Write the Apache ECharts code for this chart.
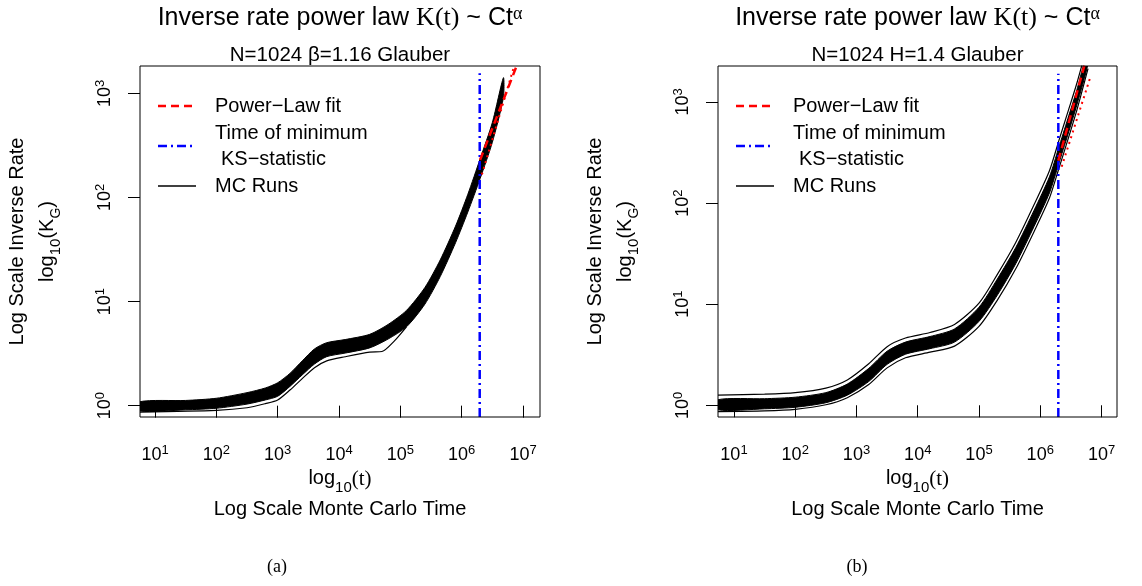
<!DOCTYPE html>
<html><head><meta charset="utf-8">
<script src="https://cdn.jsdelivr.net/npm/echarts@6/dist/echarts.min.js"></script>
<style>html,body{margin:0;padding:0;background:#fff}#c{width:1142px;height:586px}</style>
</head><body><div id="c"></div>
<script>
// ---------- tick positions (log10 units) ----------
const xTicks = [1, 2, 3, 4, 5, 6, 7];
const yTicks = [0, 1, 2, 3];

// ---------- panel (a): N=1024 beta=1.16 ----------
const logTA  = [0.755, 1.5, 2.0, 2.5, 2.8, 3.0, 3.2, 3.4, 3.6, 3.8, 4.1, 4.5, 4.8, 5.1, 5.4, 5.65, 5.9, 6.1, 6.3, 6.5, 6.68];
const upperA = [0.038, 0.05, 0.071, 0.125, 0.17, 0.22, 0.31, 0.43, 0.545, 0.605, 0.635, 0.685, 0.78, 0.915, 1.135, 1.40, 1.725, 2.03, 2.37, 2.72, 3.15];
const lowerA = [-0.051, -0.04, -0.025, 0.015, 0.055, 0.09, 0.185, 0.295, 0.40, 0.471, 0.505, 0.555, 0.64, 0.757, 0.975, 1.24, 1.565, 1.86, 2.18, 2.53, 2.96];
const logTOutA = [0.755, 2.0, 2.5, 2.8, 3.0, 3.2, 3.4, 3.6, 3.8, 4.1, 4.5, 4.7, 4.9, 5.1];
const outLoA   = [-0.062, -0.045, -0.02, 0.02, 0.055, 0.15, 0.26, 0.365, 0.43, 0.47, 0.515, 0.52, 0.62, 0.757];
const fitA1 = [[6.30, 2.36], [6.90, 3.27]];
const fitA2 = [[6.33, 2.22], [6.86, 3.27]];
const tMinA = 6.294, blueTopA = 3.193;

// ---------- panel (b): N=1024 H=1.4 ----------
const logTB  = [0.739, 1.5, 2.0, 2.5, 2.85, 3.2, 3.5, 3.8, 4.2, 4.6, 5.0, 5.3, 5.6, 5.9, 6.15, 6.3, 6.45, 6.6, 6.78];
const upperB = [0.055, 0.065, 0.08, 0.125, 0.21, 0.365, 0.535, 0.625, 0.68, 0.755, 0.97, 1.25, 1.56, 1.93, 2.26, 2.545, 2.835, 3.125, 3.52];
const lowerB = [-0.045, -0.035, -0.02, 0.025, 0.10, 0.235, 0.405, 0.505, 0.56, 0.625, 0.83, 1.09, 1.40, 1.77, 2.10, 2.385, 2.675, 2.975, 3.38];
const outHiB = [0.10, 0.11, 0.125, 0.17, 0.25, 0.41, 0.58, 0.665, 0.72, 0.80, 1.01, 1.295, 1.61, 1.985, 2.32, 2.61, 2.9, 3.19, 3.59];
const outLoB = [-0.062, -0.055, -0.04, 0.005, 0.075, 0.205, 0.37, 0.47, 0.525, 0.585, 0.78, 1.04, 1.35, 1.72, 2.05, 2.335, 2.625, 2.925, 3.33];
const fitB1 = [[6.295, 2.42], [6.72, 3.36]];
const fitB2 = [[6.35, 2.36], [6.82, 3.25]];
const tMinB = 6.295, blueTopB = 3.28;

const subtitles = ['N=1024 \u03b2=1.16 Glauber', 'N=1024 H=1.4 Glauber'];
const captions = ['(a)', '(b)'];

// ---------- layout ----------
const F = 'Liberation Sans';
const SERIF = 'Liberation Serif';
const panels = [
  { grid: { left: 140, top: 66, width: 400, height: 351 }, x: [0.755, 7.277], y: [-0.109, 3.263],
    t: logTA, up: upperA, lo: lowerA, outs: [[logTOutA, outLoA]], fits: [fitA1, fitA2], tMin: tMinA, blueTop: blueTopA,
    cx: 340, cap: 277, ox: 0 },
  { grid: { left: 718, top: 66, width: 399, height: 351 }, x: [0.739, 7.253], y: [-0.116, 3.356],
    t: logTB, up: upperB, lo: lowerB, outs: [[logTB, outHiB], [logTB, outLoB]], fits: [fitB1, fitB2], tMin: tMinB, blueTop: blueTopB,
    cx: 917.5, cap: 857, ox: 578 }
];

const tickRich = {
  b: { fontSize: 18, fontFamily: F, color: '#000', lineHeight: 20, padding: [5, 0, 0, 0], verticalAlign: 'bottom' },
  s: { fontSize: 13, fontFamily: F, color: '#000', lineHeight: 14, verticalAlign: 'top' }
};
const powFmt = v => '{b|10}{s|' + Math.round(v) + '}';

const grids = [], xAxes = [], yAxes = [], series = [], titles = [], graphics = [];

panels.forEach((p, i) => {
  grids.push(Object.assign({ show: false }, p.grid));
  xAxes.push({
    type: 'value', gridIndex: i, min: p.x[0], max: p.x[1],
    splitLine: { show: false }, axisLine: { show: false },
    axisTick: { show: true, customValues: xTicks, length: 12, lineStyle: { color: '#000', width: 1 } },
    axisLabel: { customValues: xTicks, formatter: powFmt, rich: tickRich, margin: 27 },
    name: '{l|log}{s|10}{p|(t)}\n{m|Log Scale Monte Carlo Time}',
    nameLocation: 'middle', nameGap: 36,
    nameTextStyle: { rich: {
      l: { fontSize: 20, fontFamily: F, color: '#000', lineHeight: 26, verticalAlign: 'top' },
      s: { fontSize: 15, fontFamily: F, color: '#000', lineHeight: 15, verticalAlign: 'bottom' },
      p: { fontSize: 21, fontFamily: SERIF, color: '#000', lineHeight: 26, verticalAlign: 'top' },
      m: { fontSize: 20, fontFamily: F, color: '#000', lineHeight: 30 }
    } }
  });
  yAxes.push({
    type: 'value', gridIndex: i, min: p.y[0], max: p.y[1],
    splitLine: { show: false }, axisLine: { show: false },
    axisTick: { show: true, customValues: yTicks, length: 12, lineStyle: { color: '#000', width: 1 } },
    axisLabel: { customValues: yTicks, formatter: powFmt, rich: tickRich, rotate: 90, margin: 26 },
    name: '{m|Log Scale Inverse Rate}\n{l|log}{s|10}{p|(K}{g|G}{p|)}',
    nameLocation: 'middle', nameRotate: 90, nameGap: 77,
    nameTextStyle: { rich: {
      m: { fontSize: 20, fontFamily: F, color: '#000', lineHeight: 40 },
      l: { fontSize: 20, fontFamily: F, color: '#000', lineHeight: 26, verticalAlign: 'top' },
      s: { fontSize: 15, fontFamily: F, color: '#000', lineHeight: 15, verticalAlign: 'bottom' },
      p: { fontSize: 20, fontFamily: F, color: '#000', lineHeight: 26, verticalAlign: 'top' },
      g: { fontSize: 14, fontFamily: F, color: '#000', lineHeight: 14, verticalAlign: 'bottom' }
    } }
  });

  const common = { xAxisIndex: i, yAxisIndex: i, animation: false, silent: true };
  // MC runs: filled band between the lowest and highest runs
  const bandData = p.t.map((t, k) => [t, p.lo[k], p.up[k]]);
  series.push(Object.assign({
    type: 'custom', name: 'MC Runs', clip: true, data: bandData,
    encode: { x: 0, y: [1, 2] },
    renderItem: function (params, api) {
      if (params.dataIndex !== 0) return null;
      const pts = [];
      for (let k = 0; k < bandData.length; k++) pts.push(api.coord([bandData[k][0], bandData[k][2]]));
      for (let k = bandData.length - 1; k >= 0; k--) pts.push(api.coord([bandData[k][0], bandData[k][1]]));
      return { type: 'polygon', shape: { points: pts, smooth: 0.25 },
        style: { fill: '#000', stroke: '#000', lineWidth: 1 } };
    }
  }, common));
  p.outs.forEach(o => {
    series.push(Object.assign({ type: 'line', name: 'MC Runs', symbol: 'none', smooth: 0.25,
      data: o[0].map((t, k) => [t, o[1][k]]), lineStyle: { color: '#000', width: 1.2 } }, common));
  });
  // time of minimum KS statistic
  series.push(Object.assign({ type: 'line', name: 'Time of minimum KS\u2212statistic', symbol: 'none',
    data: [[p.tMin, p.y[0]], [p.tMin, p.blueTop]], lineStyle: { color: '#0000ff', width: 2.5, type: [9, 4, 2, 4] } }, common));
  // power-law fits
  series.push(Object.assign({ type: 'line', name: 'Power\u2212Law fit', symbol: 'none', data: p.fits[0],
    lineStyle: { color: '#ff0000', width: 2.5, type: [8, 5] } }, common));
  series.push(Object.assign({ type: 'line', name: 'Power\u2212Law fit', symbol: 'none', data: p.fits[1],
    lineStyle: { color: '#ff0000', width: 2, type: [2, 4] } }, common));

  titles.push({ text: '{a|Inverse rate power law }{k|K(t)}{a| ~ Ct}{u|\u03b1}', left: p.cx, top: 1, textAlign: 'center', padding: 0,
    textStyle: { fontWeight: 'normal', rich: {
      a: { fontSize: 25, fontFamily: F, color: '#000', fontWeight: 'normal', lineHeight: 30, verticalAlign: 'bottom' },
      k: { fontSize: 26, fontFamily: SERIF, color: '#000', fontWeight: 'normal', lineHeight: 30, verticalAlign: 'bottom' },
      u: { fontSize: 18, fontFamily: SERIF, color: '#000', fontWeight: 'normal', lineHeight: 16, padding: [4, 0, 0, 0], verticalAlign: 'top' }
    } } });
  titles.push({ text: subtitles[i], left: p.cx, top: 43, textAlign: 'center', padding: 0,
    textStyle: { fontSize: 20.5, fontFamily: F, color: '#000', fontWeight: 'normal', lineHeight: 24 } });
  titles.push({ text: captions[i], left: p.cap, top: 556, textAlign: 'center', padding: 0,
    textStyle: { fontSize: 18, fontFamily: SERIF, color: '#000', fontWeight: 'normal', lineHeight: 22 } });

  // plot box drawn above the series
  graphics.push({ type: 'rect', silent: true, z: 100,
    shape: { x: p.grid.left, y: p.grid.top, width: p.grid.width, height: p.grid.height },
    style: { fill: null, stroke: '#000', lineWidth: 1 } });
  // legend
  const ox = p.ox;
  const txt = (s, x, y) => ({ type: 'text', x: x + ox, y: y, silent: true, z: 100,
    style: { text: s, font: '20px "Liberation Sans"', fill: '#000', verticalAlign: 'middle', align: 'left' } });
  graphics.push({ type: 'line', silent: true, z: 100, shape: { x1: 158 + ox, y1: 106, x2: 192 + ox, y2: 106 },
    style: { stroke: '#ff0000', lineWidth: 2.5, lineDash: [8, 5] } });
  graphics.push(txt('Power\u2212Law fit', 215, 106));
  graphics.push({ type: 'line', silent: true, z: 100, shape: { x1: 158 + ox, y1: 146, x2: 192 + ox, y2: 146 },
    style: { stroke: '#0000ff', lineWidth: 2.5, lineDash: [9, 4, 2, 4] } });
  graphics.push(txt('Time of minimum', 215, 133));
  graphics.push(txt('KS\u2212statistic', 221, 159));
  graphics.push({ type: 'line', silent: true, z: 100, shape: { x1: 158 + ox, y1: 186, x2: 196 + ox, y2: 186 },
    style: { stroke: '#000', lineWidth: 1.5 } });
  graphics.push(txt('MC Runs', 215, 186));
});

const chart = echarts.init(document.getElementById('c'), null, { renderer: 'canvas' });
chart.setOption({
  animation: false,
  backgroundColor: '#fff',
  title: titles,
  grid: grids,
  xAxis: xAxes,
  yAxis: yAxes,
  series: series,
  graphic: graphics
});
</script>
</body></html>
